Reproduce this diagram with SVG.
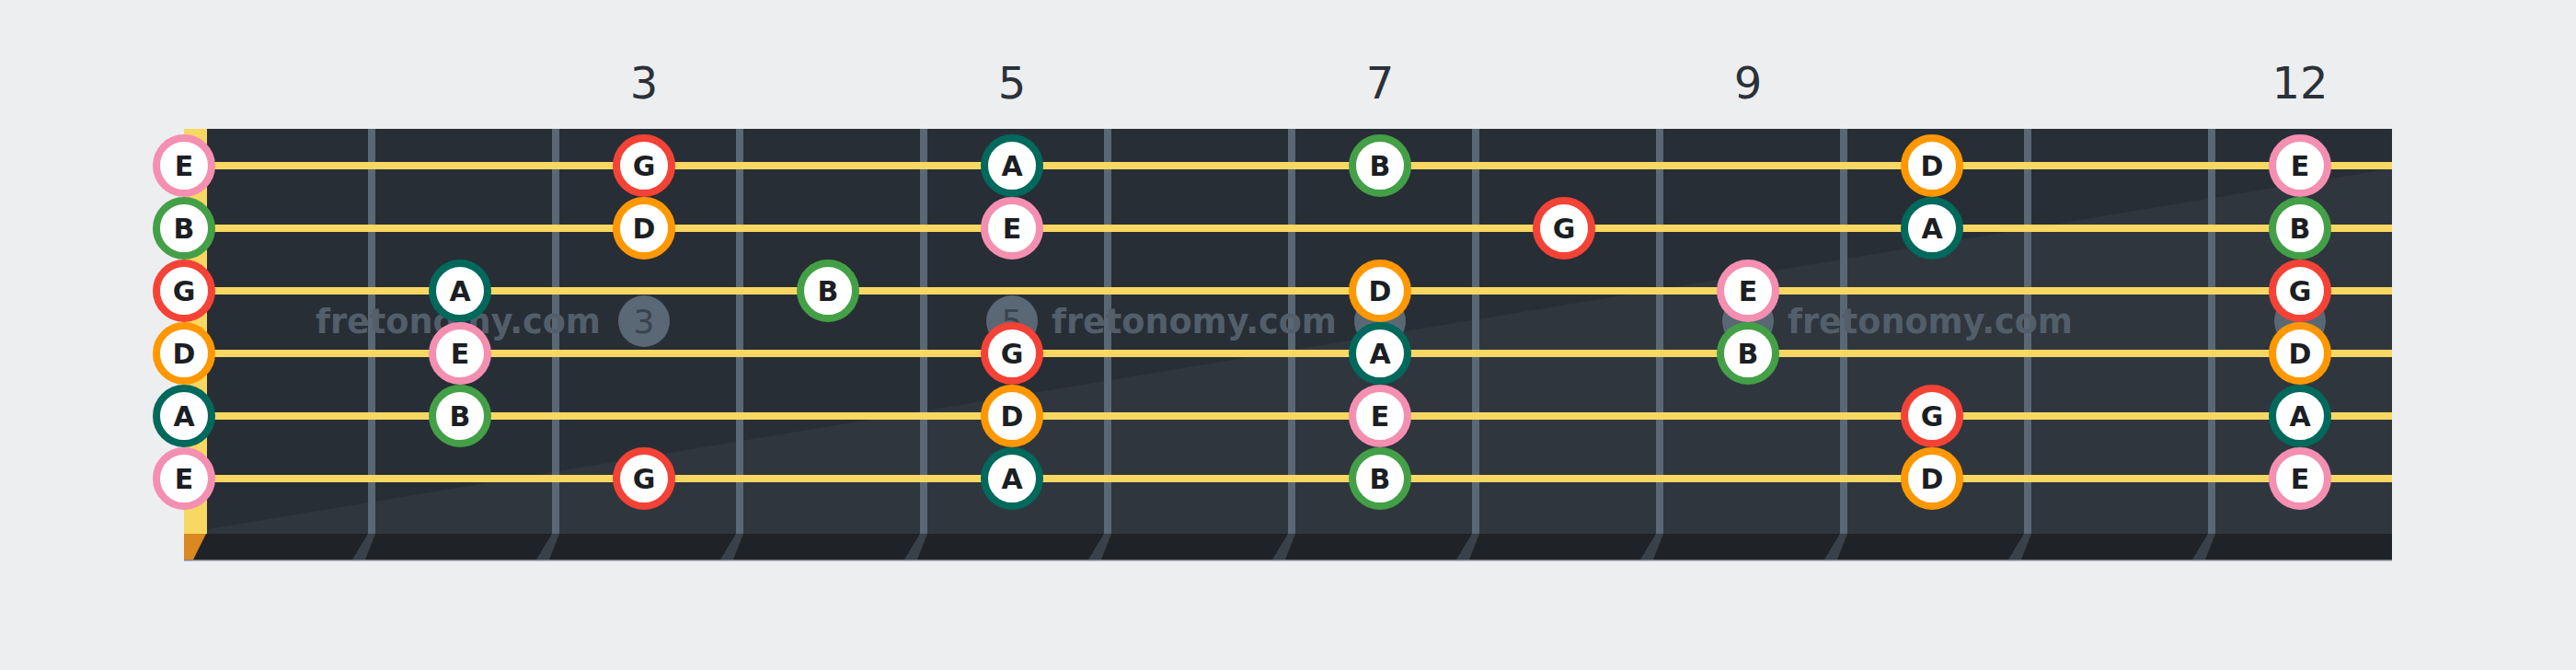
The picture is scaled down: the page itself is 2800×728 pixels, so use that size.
<svg xmlns="http://www.w3.org/2000/svg" width="2800" height="728" viewBox="0 0 2800 728">
<style>
.fret{fill:#5a6775}
.fext{fill:#39414a}
.str{stroke:#f8d862;stroke-width:8}
.num{font-family:"DejaVu Sans",sans-serif;font-size:48px;fill:#2b3138;text-anchor:middle}
.wm{font-family:"DejaVu Sans",sans-serif;font-weight:bold;font-size:36.6px;fill:#525e6a}
.wmc{fill:#5a6775}
.wmn{font-family:"DejaVu Sans",sans-serif;font-size:36px;fill:#3a444e;text-anchor:middle}
.ring{fill:#fff;stroke-width:8}
.nE{stroke:#f48fb1}.nB{stroke:#43a047}.nG{stroke:#f44336}.nD{stroke:#ff9800}.nA{stroke:#00695c}
.lbl{font-family:"DejaVu Sans",sans-serif;font-weight:bold;font-size:30px;fill:#1b1f24;text-anchor:middle}
</style>
<rect width="2800" height="728" fill="#edeef0"/>
<g id="fret-numbers">
<text class="num" x="700" y="107">3</text>
<text class="num" x="1100" y="107">5</text>
<text class="num" x="1500" y="107">7</text>
<text class="num" x="1900" y="107">9</text>
<text class="num" x="2500" y="107">12</text>
</g>
<g id="fretboard">
<rect x="225" y="140" width="2375" height="440" fill="#282e36"/>
<polygon points="225,575 2600,183 2600,580 225,580" fill="#30363e"/>
<rect x="200" y="580" width="2400" height="28" fill="#1f2327"/>
<rect x="200" y="608" width="2400" height="1.5" fill="#80868e"/>
<rect x="200" y="140" width="25" height="440" fill="#f8d862"/>
<polygon points="200,580 224,580 210,608 200,608" fill="#d9891f"/>
</g>
<g id="frets">
<g class="fext">
<polygon points="400,580 408,580 397,608 383,608"/>
<polygon points="600,580 608,580 597,608 583,608"/>
<polygon points="800,580 808,580 797,608 783,608"/>
<polygon points="1000,580 1008,580 997,608 983,608"/>
<polygon points="1200,580 1208,580 1197,608 1183,608"/>
<polygon points="1400,580 1408,580 1397,608 1383,608"/>
<polygon points="1600,580 1608,580 1597,608 1583,608"/>
<polygon points="1800,580 1808,580 1797,608 1783,608"/>
<polygon points="2000,580 2008,580 1997,608 1983,608"/>
<polygon points="2200,580 2208,580 2197,608 2183,608"/>
<polygon points="2400,580 2408,580 2397,608 2383,608"/>
</g>
<g class="fret">
<rect x="400" y="140" width="8" height="440"/>
<rect x="600" y="140" width="8" height="440"/>
<rect x="800" y="140" width="8" height="440"/>
<rect x="1000" y="140" width="8" height="440"/>
<rect x="1200" y="140" width="8" height="440"/>
<rect x="1400" y="140" width="8" height="440"/>
<rect x="1600" y="140" width="8" height="440"/>
<rect x="1800" y="140" width="8" height="440"/>
<rect x="2000" y="140" width="8" height="440"/>
<rect x="2200" y="140" width="8" height="440"/>
<rect x="2400" y="140" width="8" height="440"/>
</g>
</g>
<g id="watermark">
<text class="wm" x="343" y="362">fretonomy.com</text>
<text class="wm" x="1143" y="362">fretonomy.com</text>
<text class="wm" x="1943" y="362">fretonomy.com</text>
<circle class="wmc" cx="700" cy="349" r="28"/>
<circle class="wmc" cx="1100" cy="349" r="28"/>
<circle class="wmc" cx="1500" cy="349" r="28"/>
<circle class="wmc" cx="1900" cy="349" r="28"/>
<circle class="wmc" cx="2500" cy="349" r="28"/>
<text class="wmn" x="700" y="362">3</text>
<text class="wmn" x="1100" y="362">5</text>
</g>
<g id="strings">
<line class="str" x1="200" y1="180" x2="2600" y2="180"/>
<line class="str" x1="200" y1="248" x2="2600" y2="248"/>
<line class="str" x1="200" y1="316" x2="2600" y2="316"/>
<line class="str" x1="200" y1="384" x2="2600" y2="384"/>
<line class="str" x1="200" y1="452" x2="2600" y2="452"/>
<line class="str" x1="200" y1="520" x2="2600" y2="520"/>
</g>
<g id="notes">
<g id="s1-f0"><circle class="ring nE" cx="200" cy="180" r="30"/><text class="lbl" x="200" y="191">E</text></g>
<g id="s1-f3"><circle class="ring nG" cx="700" cy="180" r="30"/><text class="lbl" x="700" y="191">G</text></g>
<g id="s1-f5"><circle class="ring nA" cx="1100" cy="180" r="30"/><text class="lbl" x="1100" y="191">A</text></g>
<g id="s1-f7"><circle class="ring nB" cx="1500" cy="180" r="30"/><text class="lbl" x="1500" y="191">B</text></g>
<g id="s1-f10"><circle class="ring nD" cx="2100" cy="180" r="30"/><text class="lbl" x="2100" y="191">D</text></g>
<g id="s1-f12"><circle class="ring nE" cx="2500" cy="180" r="30"/><text class="lbl" x="2500" y="191">E</text></g>
<g id="s2-f0"><circle class="ring nB" cx="200" cy="248" r="30"/><text class="lbl" x="200" y="259">B</text></g>
<g id="s2-f3"><circle class="ring nD" cx="700" cy="248" r="30"/><text class="lbl" x="700" y="259">D</text></g>
<g id="s2-f5"><circle class="ring nE" cx="1100" cy="248" r="30"/><text class="lbl" x="1100" y="259">E</text></g>
<g id="s2-f8"><circle class="ring nG" cx="1700" cy="248" r="30"/><text class="lbl" x="1700" y="259">G</text></g>
<g id="s2-f10"><circle class="ring nA" cx="2100" cy="248" r="30"/><text class="lbl" x="2100" y="259">A</text></g>
<g id="s2-f12"><circle class="ring nB" cx="2500" cy="248" r="30"/><text class="lbl" x="2500" y="259">B</text></g>
<g id="s3-f0"><circle class="ring nG" cx="200" cy="316" r="30"/><text class="lbl" x="200" y="327">G</text></g>
<g id="s3-f2"><circle class="ring nA" cx="500" cy="316" r="30"/><text class="lbl" x="500" y="327">A</text></g>
<g id="s3-f4"><circle class="ring nB" cx="900" cy="316" r="30"/><text class="lbl" x="900" y="327">B</text></g>
<g id="s3-f7"><circle class="ring nD" cx="1500" cy="316" r="30"/><text class="lbl" x="1500" y="327">D</text></g>
<g id="s3-f9"><circle class="ring nE" cx="1900" cy="316" r="30"/><text class="lbl" x="1900" y="327">E</text></g>
<g id="s3-f12"><circle class="ring nG" cx="2500" cy="316" r="30"/><text class="lbl" x="2500" y="327">G</text></g>
<g id="s4-f0"><circle class="ring nD" cx="200" cy="384" r="30"/><text class="lbl" x="200" y="395">D</text></g>
<g id="s4-f2"><circle class="ring nE" cx="500" cy="384" r="30"/><text class="lbl" x="500" y="395">E</text></g>
<g id="s4-f5"><circle class="ring nG" cx="1100" cy="384" r="30"/><text class="lbl" x="1100" y="395">G</text></g>
<g id="s4-f7"><circle class="ring nA" cx="1500" cy="384" r="30"/><text class="lbl" x="1500" y="395">A</text></g>
<g id="s4-f9"><circle class="ring nB" cx="1900" cy="384" r="30"/><text class="lbl" x="1900" y="395">B</text></g>
<g id="s4-f12"><circle class="ring nD" cx="2500" cy="384" r="30"/><text class="lbl" x="2500" y="395">D</text></g>
<g id="s5-f0"><circle class="ring nA" cx="200" cy="452" r="30"/><text class="lbl" x="200" y="463">A</text></g>
<g id="s5-f2"><circle class="ring nB" cx="500" cy="452" r="30"/><text class="lbl" x="500" y="463">B</text></g>
<g id="s5-f5"><circle class="ring nD" cx="1100" cy="452" r="30"/><text class="lbl" x="1100" y="463">D</text></g>
<g id="s5-f7"><circle class="ring nE" cx="1500" cy="452" r="30"/><text class="lbl" x="1500" y="463">E</text></g>
<g id="s5-f10"><circle class="ring nG" cx="2100" cy="452" r="30"/><text class="lbl" x="2100" y="463">G</text></g>
<g id="s5-f12"><circle class="ring nA" cx="2500" cy="452" r="30"/><text class="lbl" x="2500" y="463">A</text></g>
<g id="s6-f0"><circle class="ring nE" cx="200" cy="520" r="30"/><text class="lbl" x="200" y="531">E</text></g>
<g id="s6-f3"><circle class="ring nG" cx="700" cy="520" r="30"/><text class="lbl" x="700" y="531">G</text></g>
<g id="s6-f5"><circle class="ring nA" cx="1100" cy="520" r="30"/><text class="lbl" x="1100" y="531">A</text></g>
<g id="s6-f7"><circle class="ring nB" cx="1500" cy="520" r="30"/><text class="lbl" x="1500" y="531">B</text></g>
<g id="s6-f10"><circle class="ring nD" cx="2100" cy="520" r="30"/><text class="lbl" x="2100" y="531">D</text></g>
<g id="s6-f12"><circle class="ring nE" cx="2500" cy="520" r="30"/><text class="lbl" x="2500" y="531">E</text></g>
</g>
</svg>
